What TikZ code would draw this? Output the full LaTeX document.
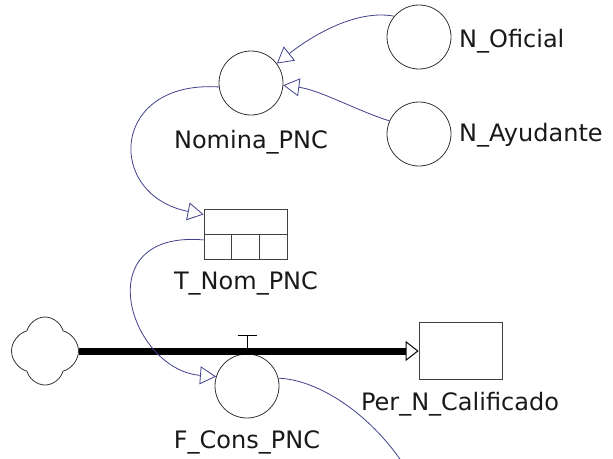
\documentclass[tikz,border=0pt]{standalone}
\usepackage{fontspec}
\setmainfont{DejaVu Sans}
\usetikzlibrary{arrows.meta,shapes.symbols,calc}
\definecolor{linkblue}{RGB}{64,64,140}
\begin{document}
\begin{tikzpicture}[x=1pt, y=-1pt,
    aux/.style  = {draw=black!80, circle, minimum size=64pt, inner sep=0pt,
                   line width=0.8pt},
    lvl/.style  = {draw=black!75, rectangle, minimum width=83pt,
                   minimum height=50pt, inner sep=0pt, line width=0.8pt},
    src/.style  = {draw=black!80, cloud, cloud puffs=4, aspect=1,
                   minimum width=67pt, minimum height=68pt, inner sep=0pt,
                   line width=0.8pt},
    lbl/.style  = {font=\fontsize{24}{28}\selectfont, text=black!90,
                   inner sep=0pt},
    link/.style = {draw=linkblue, line width=0.8pt},
    lhead/.style = {-{Triangle[open, length=16pt, width=18pt]}},
    pipe/.style = {line width=7pt,
                   -{Triangle[open, length=13pt, width=20pt, line width=1pt]}},
  ]
  \useasboundingbox (0,0) rectangle (613,458);

  \node[aux] (ofic)  at (419,37)    {};
  \node[aux] (ayud)  at (419,134)   {};
  \node[aux] (nom)   at (251,83)    {};
  \node[lvl] (tnom)  at (245.5,234) {};
  \node[aux] (fcons) at (247,386)   {};
  \node[src] (cld)   at (45,351)    {};
  \node[lvl, minimum width=83pt, minimum height=57pt] (per) at (460.5,351) {};
  \coordinate (lnkend) at (402,462);

  \node[lbl, anchor=base west] (oficl)  at (459,47)  {N\_Oficial};
  \node[lbl, anchor=base west] (ayudl)  at (459,141) {N\_Ayudante};
  \node[lbl, anchor=base]      (noml)   at (251,148) {Nomina\_PNC};
  \node[lbl, anchor=base]      (tnoml)  at (246,289) {T\_Nom\_PNC};
  \node[lbl, anchor=base]      (fconsl) at (247,448) {F\_Cons\_PNC};
  \node[lbl, anchor=base]      (perl)   at (460,410) {Per\_N\_Calificado};

  \draw[draw=black!75, line width=0.8pt] (tnom.west) -- (tnom.east);
  \draw[draw=black!75, line width=0.8pt]
    ($(tnom.west)!1/3!(tnom.east)$) -- ($(tnom.south west)!1/3!(tnom.south east)$);
  \draw[draw=black!75, line width=0.8pt]
    ($(tnom.west)!2/3!(tnom.east)$) -- ($(tnom.south west)!2/3!(tnom.south east)$);

  \draw[line width=0.8pt] (fcons.north) -- ++(0,-18) ++(-9.5,0) -- ++(19,0);
  \draw[pipe] (cld.east) -- (per.west);

  \draw[link, lhead] (ofic.140) .. controls (350,8) and (300,45) .. (nom.37);
  \draw[link, lhead] (ayud.156) .. controls (360,112) and (320,90) .. (nom.356);
  \draw[link, lhead] (nom.187) .. controls (110,80) and (105,195) .. (tnom.155);
  \draw[link, lhead] (tnom.188) .. controls (85,230) and (130,370) .. (fcons.163);
  \draw[link] (fcons.14) .. controls (320,380) and (370,415) .. (lnkend);
\end{tikzpicture}
\end{document}
